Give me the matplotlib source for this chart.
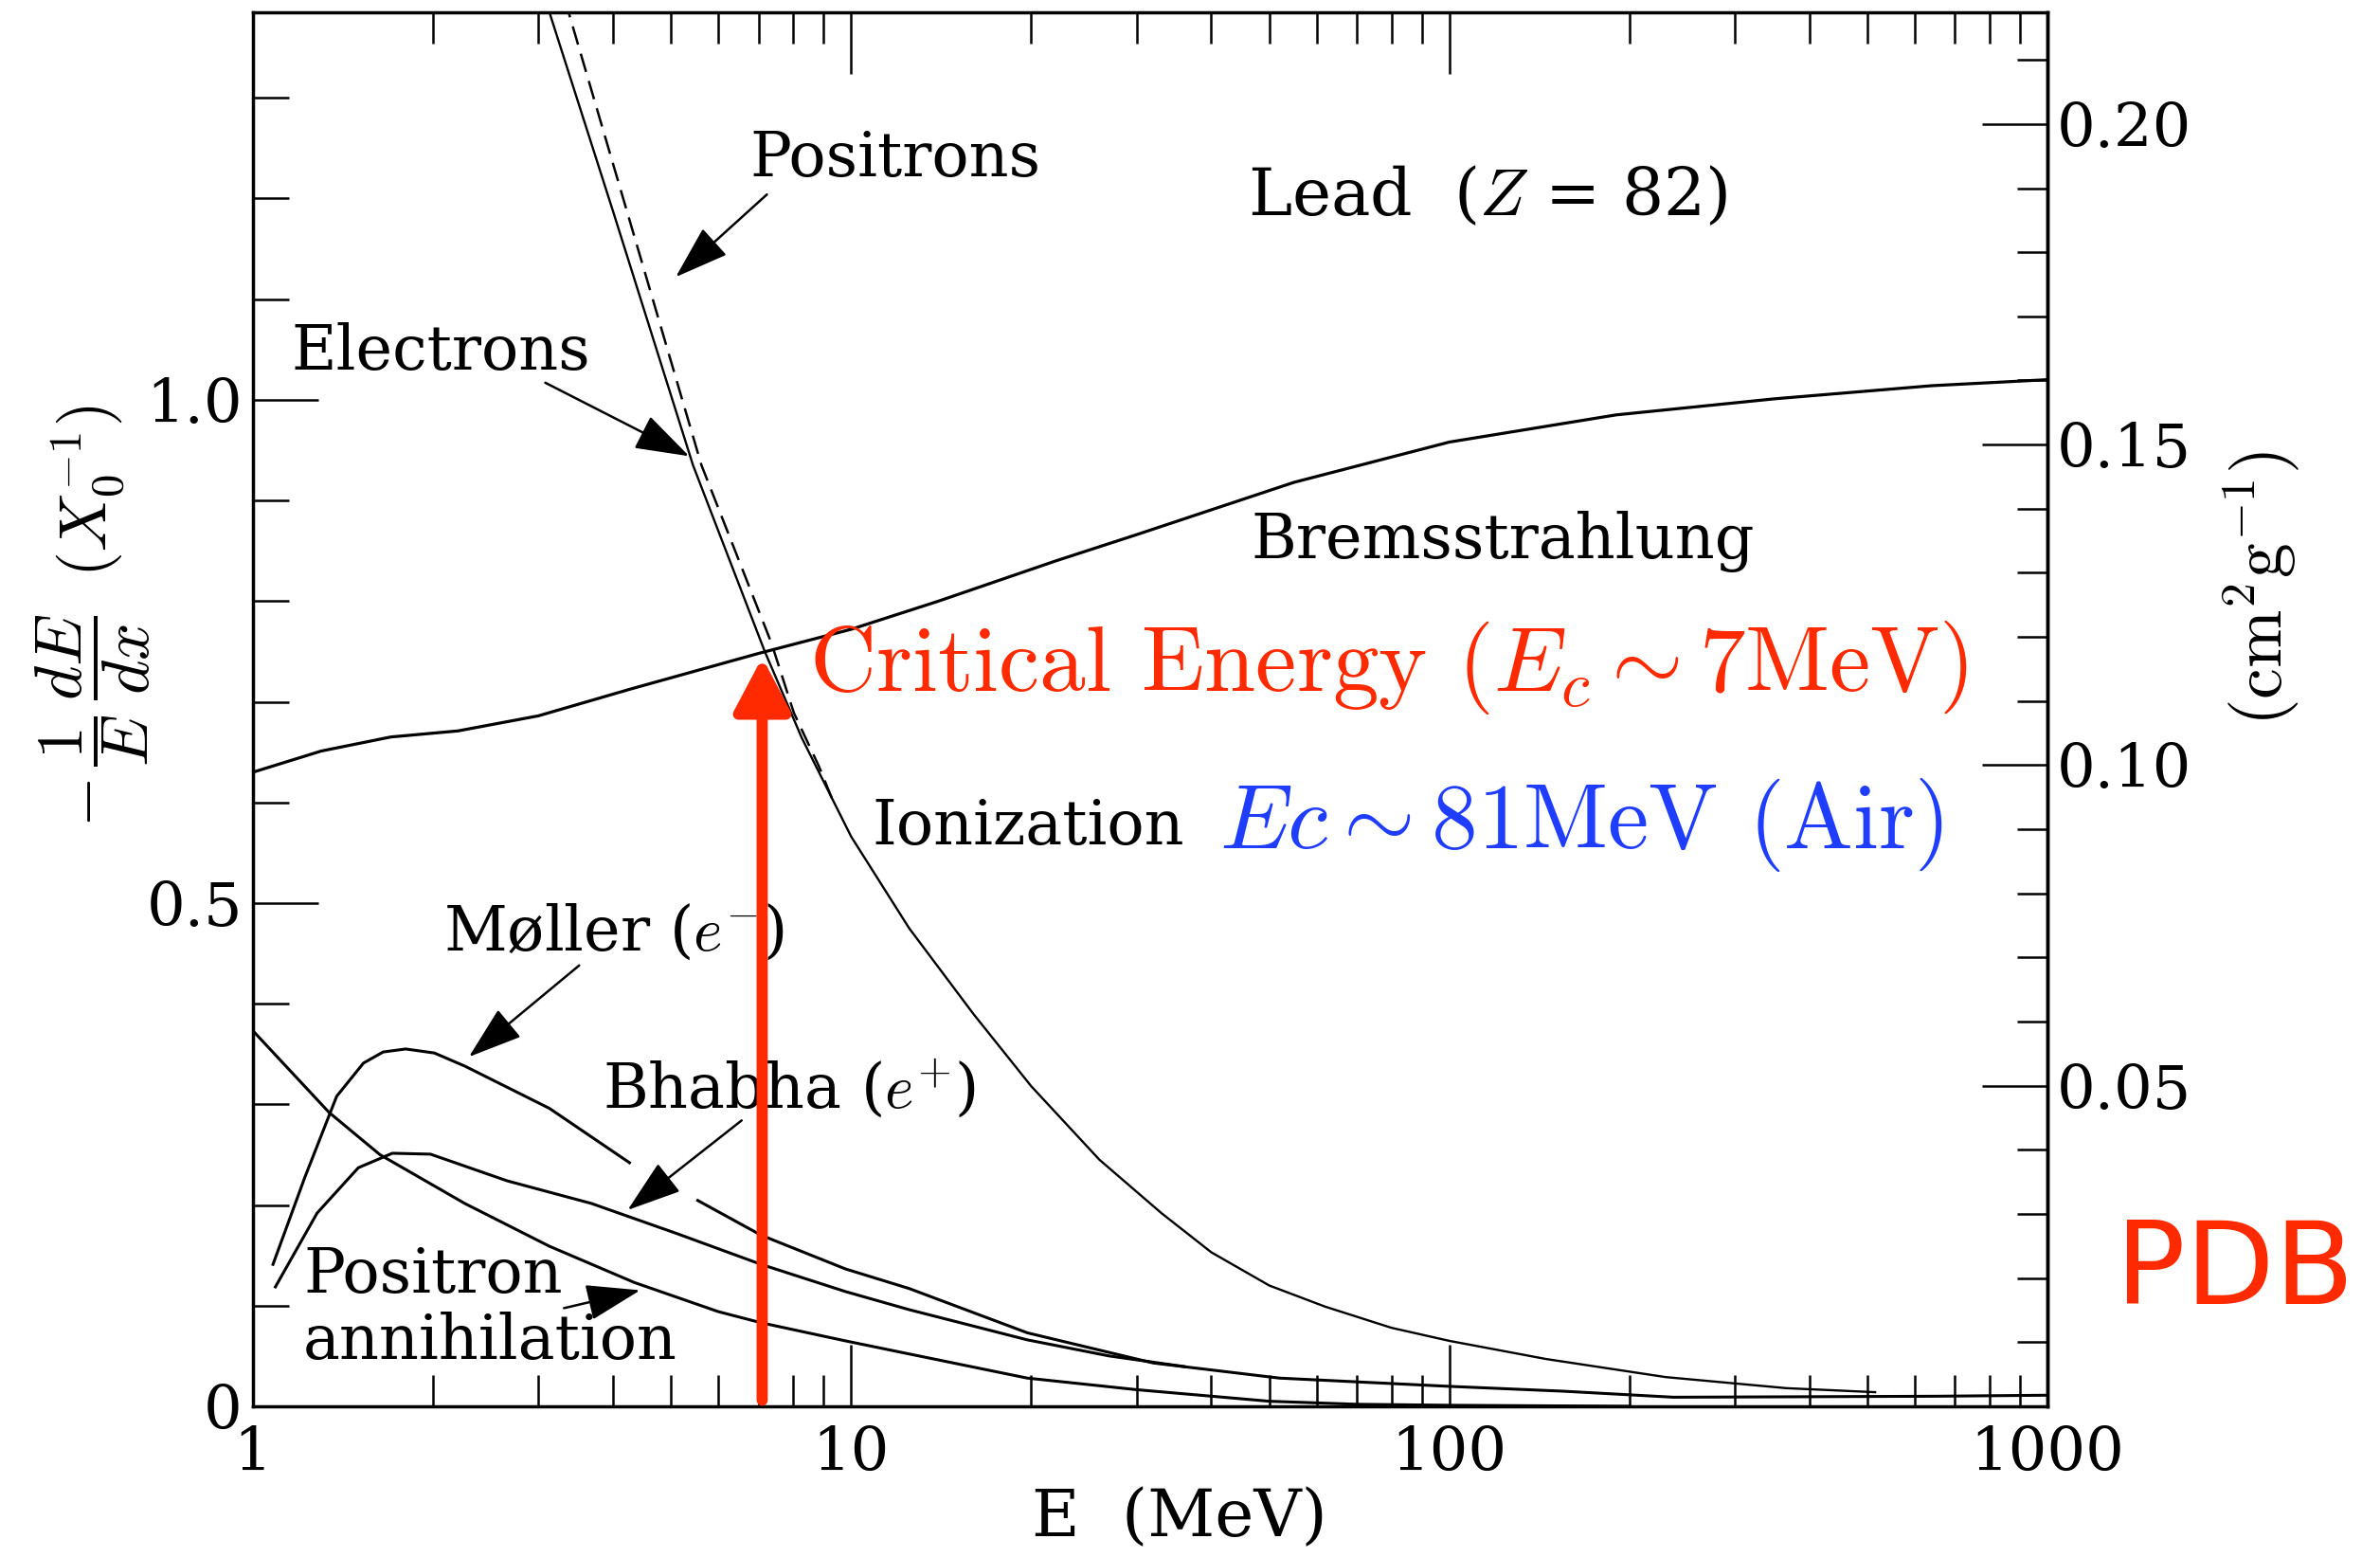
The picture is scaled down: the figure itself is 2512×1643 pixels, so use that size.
import matplotlib
matplotlib.use("Agg")
import matplotlib.pyplot as plt
from matplotlib.ticker import MultipleLocator, LogLocator, NullFormatter

plt.rcParams['mathtext.fontset'] = 'cm'
plt.rcParams['axes.unicode_minus'] = False

# fractional energy loss per radiation length in lead
x0_lead = 6.37      # g cm^-2, converts 1/X0 to cm^2 g^-1
ec_lead = 7.1       # MeV, where ionization crosses bremsstrahlung

brems_E = [1.0, 1.3, 1.7, 2.2, 3.0, 4.3, 7.0, 10, 14, 22, 30, 55, 100, 190, 350, 640, 1000]
brems_y = [0.630, 0.651, 0.665, 0.671, 0.686, 0.713, 0.748, 0.772, 0.800, 0.840, 0.866,
           0.918, 0.958, 0.985, 1.001, 1.014, 1.020]

elec_E = [3.0, 3.13, 4.0, 5.44, 7.17, 8.27, 10.0, 12.5, 16, 20, 26, 33, 40, 50, 62, 80,
          100, 145, 230, 366, 515]
elec_y = [1.42, 1.385, 1.187, 0.935, 0.750, 0.664, 0.566, 0.475, 0.390, 0.318, 0.245, 0.192,
          0.153, 0.120, 0.099, 0.078, 0.065, 0.047, 0.029, 0.018, 0.014]

posi_E = [3.25, 3.37, 4.22, 5.62, 7.36, 8.02, 8.83, 9.3]
posi_y = [1.42, 1.385, 1.187, 0.935, 0.758, 0.689, 0.636, 0.603]

moller_lo_E = [1.08, 1.22, 1.38, 1.53, 1.65, 1.80, 2.01, 2.26, 3.13, 4.26]
moller_lo_y = [0.141, 0.227, 0.308, 0.341, 0.352, 0.355, 0.351, 0.338, 0.296, 0.242]
moller_hi_E = [5.54, 7.07, 9.78, 12.5, 19.7, 32, 52, 100, 155, 237, 400, 655, 1000]
moller_hi_y = [0.2045, 0.170, 0.1365, 0.117, 0.073, 0.043, 0.028, 0.0198, 0.015, 0.009,
               0.0095, 0.010, 0.011]

bhabha_E = [1.09, 1.28, 1.50, 1.71, 1.98, 2.66, 3.68, 5.09, 7.07, 9.78, 12.5, 19.7, 27, 36]
bhabha_y = [0.1186, 0.192, 0.237, 0.2514, 0.2505, 0.224, 0.2015, 0.172, 0.141, 0.114,
            0.096, 0.066, 0.050, 0.0395]

annih_E = [1.0, 1.34, 1.63, 2.26, 3.13, 4.34, 6.0, 7.07, 9.78, 12.5, 19.7, 30, 50, 70, 100, 200]
annih_y = [0.373, 0.292, 0.250, 0.2015, 0.159, 0.123, 0.094, 0.083, 0.065, 0.052, 0.028,
           0.0165, 0.005, 0.002, 0.001, 0.0]

red = '#ff2a00'
blue = '#1f3dff'
serif = 'DejaVu Serif'

fig = plt.figure(figsize=(25.12, 16.43), dpi=100)
ax = fig.add_axes([0.1063, 0.0968, 0.754, 0.8953])

ax.plot(brems_E, brems_y, color='k', lw=2.3)
ax.plot(elec_E, elec_y, color='k', lw=1.7)
ax.plot(posi_E, posi_y, color='k', lw=1.8, ls=(0, (8, 4)))
ax.plot(moller_lo_E, moller_lo_y, color='k', lw=2.2)
ax.plot(moller_hi_E, moller_hi_y, color='k', lw=2.2)
ax.plot(bhabha_E, bhabha_y, color='k', lw=2.2)
ax.plot(annih_E, annih_y, color='k', lw=2.2)

ax.set_xscale('log')
ax.set_xlim(1, 1000)
ax.set_ylim(0, 1.385)

# ticks: inward, long majors, minor every 0.1 / every integer
ax.set_xticks([1, 10, 100, 1000], labels=['1', '10', '100', '1000'])
ax.xaxis.set_minor_locator(LogLocator(base=10, subs=range(2, 10)))
ax.xaxis.set_minor_formatter(NullFormatter())
ax.set_yticks([0, 0.5, 1.0], labels=['0', '0.5', '1.0'])
ax.yaxis.set_minor_locator(MultipleLocator(0.1))
ax.tick_params(which='both', direction='in', top=True, right=False, width=1.8,
               labelsize=46, labelfontfamily=serif)
ax.tick_params(axis='x', which='major', length=47, pad=14)
ax.tick_params(axis='x', which='minor', length=24)
ax.tick_params(axis='y', which='major', length=50, pad=8)
ax.tick_params(axis='y', which='minor', length=27)
for s in ax.spines.values():
    s.set_linewidth(2.5)

sec = ax.secondary_yaxis('right', functions=(lambda v: v / x0_lead, lambda v: v * x0_lead))
sec.set_yticks([0.05, 0.10, 0.15, 0.20], labels=['0.05', '0.10', '0.15', '0.20'])
sec.yaxis.set_minor_locator(MultipleLocator(0.01))
sec.tick_params(which='both', direction='in', width=1.8, labelsize=46, labelfontfamily=serif)
sec.tick_params(which='major', length=50, pad=7)
sec.tick_params(which='minor', length=23)
sec.spines['right'].set_linewidth(2.5)

# labels
fig.text(0.039, 0.604, r'$-\,\dfrac{1}{E}\,\dfrac{dE}{dx}\;\;(X_0^{-1})$', rotation=90,
         ha='center', va='center', fontsize=50)
fig.text(0.950, 0.622, r'$(\mathrm{cm}^2\mathrm{g}^{-1})$', rotation=90,
         ha='center', va='center', fontsize=53)
fig.text(0.4956, 0.025, 'E  (MeV)', ha='center', va='center', fontsize=50, family=serif)

lab = dict(family=serif, fontsize=47, color='k')
ax.text(11.87, 1.239, 'Positrons', ha='center', va='center', **lab)
ax.text(2.06, 1.047, 'Electrons', ha='center', va='center', **lab)
ax.text(116, 1.2015, r'Lead  ($Z$ = 82)', ha='center', va='center',
        family=serif, fontsize=50, color='k')
ax.text(123, 0.859, 'Bremsstrahlung', ha='center', va='center', **lab)
ax.text(19.8, 0.575, 'Ionization', ha='center', va='center', **lab)
ax.text(2.08, 0.470, r'Møller ($e^{-}$)', ha='left', va='center', **lab)
ax.text(3.84, 0.3145, r'Bhabha ($e^{+}$)', ha='left', va='center', **lab)
ax.text(1.213, 0.130, 'Positron', ha='left', va='center', **lab)
ax.text(1.213, 0.064, 'annihilation', ha='left', va='center', **lab)

ax.text(8.51, 0.7335, r'Critical Energy $(E_c \sim 7$MeV$)$', family='cmr10', color=red,
        fontsize=70, ha='left', va='center')
ax.text(41.2, 0.578, r'$Ec \sim 81$MeV $($Air$)$', family='cmr10', color=blue,
        fontsize=70, ha='left', va='center')
fig.text(0.889, 0.183, 'PDB', color=red, fontsize=88, family='DejaVu Sans',
         ha='left', va='center')

# pointer arrows (tail -> tip)
arrow_kw = dict(arrowstyle='-|>,head_length=0.9,head_width=0.3', color='k', lw=1.8,
                mutation_scale=40, shrinkA=0, shrinkB=0)
pointers = [((7.23, 1.204), (5.09, 1.122)),
            ((3.08, 1.017), (5.36, 0.944)),
            ((3.51, 0.438), (2.296, 0.3472)),
            ((6.56, 0.284), (4.23, 0.195)),
            ((3.31, 0.0975), (4.44, 0.1153))]
for tail, tip in pointers:
    ax.annotate('', xy=tip, xytext=tail, arrowprops=arrow_kw)

# critical energy marker
ax.annotate('', xy=(ec_lead, 0.744), xytext=(ec_lead, 0.006), zorder=6,
            arrowprops=dict(arrowstyle='-|>,head_length=0.85,head_width=0.45', color=red,
                            lw=8.5, mutation_scale=40, shrinkA=0, shrinkB=0))

fig.savefig('out.png', dpi=100)
